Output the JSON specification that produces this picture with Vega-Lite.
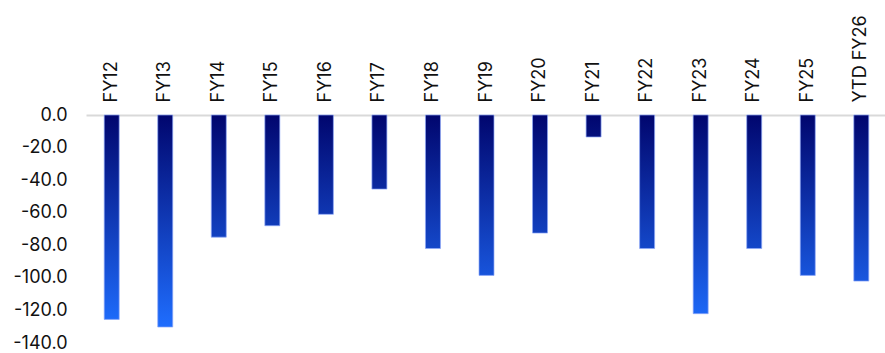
{
  "$schema": "https://vega.github.io/schema/vega-lite/v6.json",
  "width": 801,
  "height": 228,
  "autosize": {"type": "none"},
  "padding": {"left": 86, "top": 115, "right": 0, "bottom": 10},
  "background": "white",
  "config": {"view": {"stroke": null}, "font": "Inter"},
  "data": {
    "values": [
      {"period": "FY12", "value": -125.5},
      {"period": "FY13", "value": -130.2},
      {"period": "FY14", "value": -75.0},
      {"period": "FY15", "value": -68.0},
      {"period": "FY16", "value": -61.0},
      {"period": "FY17", "value": -45.5},
      {"period": "FY18", "value": -82.0},
      {"period": "FY19", "value": -98.5},
      {"period": "FY20", "value": -72.5},
      {"period": "FY21", "value": -13.5},
      {"period": "FY22", "value": -82.0},
      {"period": "FY23", "value": -122.0},
      {"period": "FY24", "value": -82.0},
      {"period": "FY25", "value": -98.5},
      {"period": "YTD FY26", "value": -102.0}
    ]
  },
  "mark": {
    "type": "bar",
    "fill": {"expr": "{gradient: 'linear', x1: 0, y1: 0, x2: 0, y2: 131 / abs(datum.value), stops: [{offset: 0, color: '#01066e'}, {offset: 1, color: '#1f6eff'}]}"},
    "stroke": "#8fa8f8",
    "strokeWidth": 1,
    "strokeOpacity": 0.7
  },
  "encoding": {
    "x": {
      "field": "period",
      "type": "nominal",
      "sort": null,
      "scale": {"paddingInner": 0.72, "paddingOuter": 0.34},
      "axis": {
        "orient": "top",
        "title": null,
        "labelAngle": -90,
        "ticks": false,
        "labelPadding": 13,
        "labelFontSize": 18,
        "labelColor": "#111111",
        "domainColor": "#d9d9d9",
        "domainWidth": 2
      }
    },
    "y": {
      "field": "value",
      "type": "quantitative",
      "scale": {"domain": [-140, 0], "nice": false},
      "axis": {
        "title": null,
        "values": [0, -20, -40, -60, -80, -100, -120, -140],
        "labelExpr": "(datum.value < 0 ? '-' : '') + format(abs(datum.value), '.1f')",
        "ticks": false,
        "domain": false,
        "grid": false,
        "labelPadding": 19,
        "labelFontSize": 18,
        "labelColor": "#111111"
      }
    }
  }
}
